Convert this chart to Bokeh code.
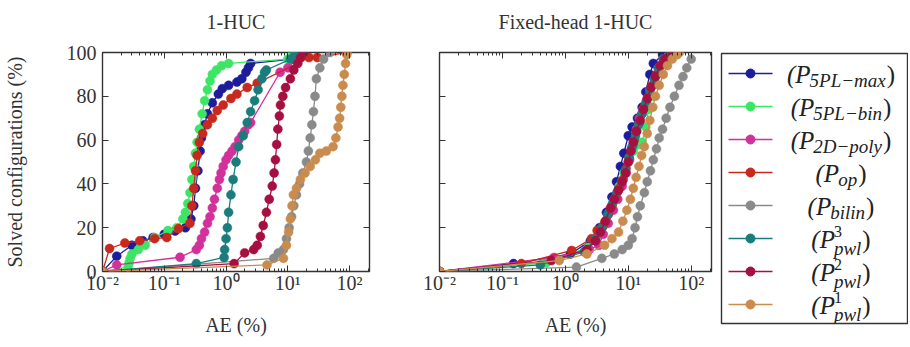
from bokeh.plotting import figure
from bokeh.layouts import row
from bokeh.models import LogAxis, LinearAxis, Range1d, FixedTicker
from bokeh.embed import file_html
from bokeh.resources import INLINE
from bokeh.core.properties import value

# ---------------- data (AE %, solved configurations %) ----------------
SERIES = ["5PL-max", "5PL-bin", "2D-poly", "op", "bilin", "pwl3", "pwl2", "pwl1"]
SUBS = ["5PL\u2212max", "5PL\u2212bin", "2D\u2212poly", "op", "bilin", "pwl", "pwl", "pwl"]
SUPS = ["", "", "", "", "", "3", "2", "1"]
COLORS = ["#1c1c9c", "#3de565", "#d2309a", "#c8281d", "#8a8a8a", "#1b7c7c", "#a51040", "#c98c4e"]

X_TICKS = [0.01, 0.1, 1, 10, 100]
X_TICK_LABELS = ["10\u207b\u00b2", "10\u207b\u00b9", "10\u2070", "10\u00b9", "10\u00b2"]
Y_TICKS = [0, 20, 40, 60, 80, 100]

# --- panel 1: 1-HUC ---
L_MAX_X = [0.01, 0.017, 0.03, 0.045, 0.066, 0.1, 0.15, 0.22, 0.27, 0.3, 0.32, 0.35, 0.38, 0.4, 0.45, 0.5, 0.6, 0.75, 0.87, 1.1, 1.5, 1.8, 2.1, 2.3, 2.5, 12, 14]
L_MAX_Y = [0, 7, 12, 14, 15.5, 17, 18.5, 20, 24, 30, 38, 46, 55, 61, 67, 72, 77, 81, 83.5, 85, 86.5, 88, 91, 93, 95, 97, 100]
L_BIN_X = [0.01, 0.026, 0.027, 0.028, 0.03, 0.038, 0.049, 0.07, 0.115, 0.16, 0.2, 0.22, 0.24, 0.26, 0.28, 0.3, 0.32, 0.34, 0.37, 0.41, 0.45, 0.5, 0.55, 0.6, 0.7, 0.85, 1.1, 10, 12]
L_BIN_Y = [0, 2, 4, 6, 8, 10, 12, 15.5, 18.7, 20, 24, 27, 31, 36, 42, 48, 54, 59, 65, 72, 78, 83, 87, 90, 92, 94, 95, 97, 100]
L_POLY_X = [0.01, 0.017, 0.18, 0.33, 0.37, 0.4, 0.45, 0.5, 0.55, 0.6, 0.65, 0.72, 0.78, 0.83, 0.9, 1.0, 1.1, 1.25, 1.4, 1.6, 1.8, 2.0, 2.3, 2.5, 7.5, 10, 14, 18]
L_POLY_Y = [0, 3, 6.5, 10, 12, 15, 18, 22, 25, 29, 33, 38, 42, 45, 48, 51, 53, 55, 57, 60, 62, 64, 67, 68, 91, 93, 97, 100]
L_OP_X = [0.01, 0.013, 0.023, 0.04, 0.07, 0.11, 0.17, 0.26, 0.28, 0.3, 0.32, 0.34, 0.37, 0.42, 0.5, 0.6, 0.72, 0.9, 1.2, 1.5, 2.2, 3.2, 22, 30, 87]
L_OP_Y = [0, 10.5, 13, 14, 15, 15.5, 19.6, 22, 30, 38, 46, 53, 59, 63, 67, 70, 73.5, 76, 79, 81, 84, 86, 97.7, 97.7, 100]
L_BILIN_X = [0.01, 5.9, 7, 8.5, 9.5, 10.5, 11.5, 12.5, 13.8, 15.5, 17.5, 20, 21.5, 23, 24.5, 26, 27.5, 29, 33, 38, 48]
L_BILIN_Y = [0, 6, 8.5, 10, 15, 20, 25, 30, 35, 40, 45, 50, 55, 61, 67, 73, 80, 88, 93, 97, 100]
L_PWL3_X = [0.01, 0.33, 0.93, 0.95, 1.0, 1.05, 1.1, 1.2, 1.3, 1.45, 1.6, 1.9, 2.2, 2.5, 2.9, 3.3, 3.8, 4.2, 4.5, 11, 13]
L_PWL3_Y = [0, 3.6, 6.4, 10, 15, 20, 27, 35, 42, 50, 57, 62, 68, 73, 78, 83, 88, 91, 92, 97, 100]
L_PWL2_X = [0.01, 1.35, 2.0, 2.8, 3.2, 3.6, 4.0, 4.5, 5.0, 5.6, 6.0, 6.3, 6.6, 6.9, 7.3, 7.6, 8.3, 9.2, 11, 12.5, 14.5, 16, 18]
L_PWL2_Y = [0, 3.6, 8.5, 10, 12, 16, 21, 27, 33, 39, 45, 51, 58, 65, 71, 76, 80, 84, 88, 92, 95, 97.5, 100]
L_PWL1_X = [0.01, 4.6, 8.5, 9.5, 10.3, 11, 11.7, 12.3, 13.8, 16, 19, 23, 28, 33, 42, 54, 60, 65, 69, 72, 75, 78, 82, 86, 90, 92]
L_PWL1_Y = [0, 3, 6, 12, 18, 24, 30, 35, 38, 42, 45, 48, 51, 54, 55, 57, 61, 66, 70, 75, 80, 85, 90, 95, 99, 100]

# --- panel 2: Fixed-head 1-HUC ---
R_MAX_X = [0.01, 0.15, 1.2, 2.5, 3.5, 4.5, 5.5, 6.5, 7.5, 8.5, 10, 11.5, 14, 16.6, 19, 22, 25, 35, 45]
R_MAX_Y = [0, 3.6, 8, 14, 20, 27, 34, 41, 48, 54, 62, 66, 70, 75, 82, 90, 95, 99, 100]
R_BIN_X = [0.01, 0.5, 2.3, 3.2, 4.1, 5, 6, 7.2, 8.5, 10, 12, 14.5, 16.6, 19, 21, 24, 27, 31, 36, 42, 50]
R_BIN_Y = [0, 4, 11, 16, 21, 27, 33, 39, 45, 50, 55, 58, 59, 66, 74, 80, 86, 91, 95, 98, 100]
R_POLY_X = [0.01, 0.66, 2.4, 3.4, 4, 4.8, 5.8, 6.8, 8, 9.3, 10.5, 12, 13.5, 15, 17, 19.5, 22, 26, 30, 36, 48]
R_POLY_Y = [0, 6.4, 10, 12, 17, 22, 28, 33, 39, 45, 51, 58, 65, 70, 74, 78, 83, 88, 93, 97, 100]
R_OP_X = [0.01, 0.2, 1.26, 2.6, 3.2, 3.8, 4.2, 4.8, 5.5, 6.3, 7.2, 8.3, 9.2, 10.2, 11.2, 12.4, 13.5, 15, 16.5, 18.5, 21, 24, 28, 33, 38, 45, 55]
R_OP_Y = [0, 3.6, 9.6, 15, 18.7, 20, 22, 26, 30, 34, 38, 42, 47, 52, 56, 60, 64, 68, 72, 76, 80, 85, 90, 94, 97, 99, 100]
R_BILIN_X = [0.01, 1.5, 3.8, 6, 8, 10, 11.5, 12.8, 14, 15.5, 18, 20, 22.5, 25, 28, 31, 35, 40, 46, 54, 64, 74, 85, 100]
R_BILIN_Y = [0, 2, 6, 8, 10, 12, 15, 20, 25, 30, 36, 41, 46, 51, 56, 61, 65, 70, 75, 80, 85, 89, 93, 97]
R_PWL3_X = [0.01, 0.4, 2.0, 3.0, 3.8, 4.7, 5.6, 6.6, 7.8, 9, 10.3, 11.5, 13, 14.5, 16.5, 19, 22, 26, 30, 36, 46]
R_PWL3_Y = [0, 3, 9, 15, 20, 26, 31, 36, 41, 46, 52, 57, 62, 67, 72, 77, 83, 88, 93, 97, 100]
R_PWL2_X = [0.01, 0.6, 2.2, 3, 3.6, 4.3, 5.2, 6, 7, 8, 9, 10, 11, 12, 13.5, 15.5, 17.5, 20, 23, 27, 32, 38, 50]
R_PWL2_Y = [0, 5, 10, 14, 18, 23, 29, 33, 37, 41, 45, 50, 55, 59, 64, 69, 74, 79, 84, 89, 94, 97, 100]
R_PWL1_X = [0.01, 0.8, 2.2, 4.2, 5.5, 7, 8.2, 9.5, 10.8, 12, 13.3, 14.8, 16.3, 18, 20, 22, 24.5, 27, 31, 36, 42, 50, 60, 65]
R_PWL1_Y = [0, 5, 8, 12, 15, 18, 23, 28, 33, 38, 43, 48, 53, 57, 63, 69, 75, 80, 85, 90, 94, 97, 99, 100]

LEFT = [(L_MAX_X, L_MAX_Y), (L_BIN_X, L_BIN_Y), (L_POLY_X, L_POLY_Y), (L_OP_X, L_OP_Y),
        (L_BILIN_X, L_BILIN_Y), (L_PWL3_X, L_PWL3_Y), (L_PWL2_X, L_PWL2_Y), (L_PWL1_X, L_PWL1_Y)]
RIGHT = [(R_MAX_X, R_MAX_Y), (R_BIN_X, R_BIN_Y), (R_POLY_X, R_POLY_Y), (R_OP_X, R_OP_Y),
         (R_BILIN_X, R_BILIN_Y), (R_PWL3_X, R_PWL3_Y), (R_PWL2_X, R_PWL2_Y), (R_PWL1_X, R_PWL1_Y)]

FONT = "Liberation Serif"
INK = "#333333"
MINOR = [m * d for d in [0.01, 0.1, 1, 10, 100] for m in range(2, 10) if m * d < 210]


def style_axis(ax, labels=True):
    ax.axis_line_color = None
    ax.major_tick_in = 6
    ax.major_tick_out = 0
    ax.minor_tick_in = 3
    ax.minor_tick_out = 0
    ax.major_tick_line_color = INK
    ax.minor_tick_line_color = INK
    ax.major_label_text_font = FONT
    ax.major_label_text_font_size = "20px"
    ax.major_label_text_color = INK if labels else None
    ax.axis_label_text_font = FONT
    ax.axis_label_text_font_size = "20px"
    ax.axis_label_text_font_style = "normal"
    ax.axis_label_text_color = INK


def make_panel(title, data, ylabel, border_left, border_right):
    p = figure(title=None, x_axis_type="log", x_range=Range1d(0.01, 210), y_range=Range1d(0, 100),
               width=border_left + 272 + border_right, height=52 + 219 + 72,
               min_border_left=border_left, min_border_right=border_right,
               min_border_top=52, min_border_bottom=72, frame_align=False,
               toolbar_location=None, output_backend="svg",
               background_fill_color="white", border_fill_color="white")
    p.grid.visible = False
    p.outline_line_color = INK
    p.outline_line_width = 1.4

    xt = FixedTicker(ticks=X_TICKS, minor_ticks=MINOR)
    yt = FixedTicker(ticks=Y_TICKS)
    xa = p.xaxis[0]
    xa.ticker = xt
    xa.major_label_overrides = dict(zip(X_TICKS, X_TICK_LABELS))
    xa.axis_label = "AE (%)"
    style_axis(xa)
    xa.major_label_standoff = 0
    xa.axis_label_standoff = 17

    ya = p.yaxis[0]
    ya.ticker = yt
    style_axis(ya, labels=ylabel)
    ya.minor_tick_in = 0
    if ylabel:
        ya.axis_label = "Solved configurations (%)"
        ya.major_label_standoff = 6
        ya.axis_label_standoff = 38
    else:
        ya.major_label_overrides = {t: "" for t in Y_TICKS}

    # top axis: inner ticks along the upper frame edge, panel title as its label
    top = LogAxis(ticker=xt, major_label_overrides={t: "" for t in X_TICKS})
    style_axis(top, labels=False)
    top.major_label_standoff = 0
    top.axis_label = title
    top.axis_label_standoff = 20
    p.add_layout(top, "above")
    right = LinearAxis(ticker=yt, major_label_overrides={t: "" for t in Y_TICKS})
    style_axis(right, labels=False)
    right.minor_tick_in = 0
    right.major_label_standoff = 0
    p.add_layout(right, "right")

    for (xs, ys), c in zip(data, COLORS):
        p.line(xs, ys, line_color=c, line_width=1.3)
        p.scatter(xs, ys, size=9, fill_color=c, line_color=c, line_width=0.5)
    return p


p1 = make_panel("1-HUC", LEFT, True, 97, 30)
p2 = make_panel("Fixed-head 1-HUC", RIGHT, False, 40, 4)

# ---------------- legend panel ----------------
leg = figure(x_range=Range1d(0, 186), y_range=Range1d(270, 0),
             width=6 + 186 + 1, height=53 + 270 + 2,
             min_border_left=6, min_border_right=1, min_border_top=53, min_border_bottom=2,
             frame_align=False,
             toolbar_location=None, output_backend="svg",
             background_fill_color="white", border_fill_color="white")
leg.xaxis.visible = False
leg.yaxis.visible = False
leg.grid.visible = False
leg.outline_line_color = INK
leg.outline_line_width = 1.4

W_IT = {'5': .5, 'P': .611, 'L': .556, '\u2212': .675, 'm': .722, 'a': .5, 'x': .444, 'b': .5,
        'i': .278, 'n': .5, '2': .5, 'D': .722, 'p': .5, 'o': .5, 'l': .278, 'y': .444, 'w': .667,
        '1': .5, '3': .5}
MAIN = 25
SUB = 19
CX = 120
TXT = "#222222"
for i, (sub, sup, c) in enumerate(zip(SUBS, SUPS, COLORS)):
    y = 20 + 33 * i
    leg.line([7, 51], [y, y], line_color=c, line_width=1.3)
    leg.scatter([29], [y], size=9, fill_color=c, line_color=c)
    w_sub = sum(W_IT.get(ch, .5) for ch in sub) * SUB
    w_head = (0.333 + 0.611) * MAIN
    w_tail = 0.333 * MAIN
    total = w_head + w_sub + w_tail + 1
    x0 = CX - total / 2
    leg.text([x0], [y + 1], text=["(P"], text_font=value(FONT), text_font_size="%dpx" % MAIN,
             text_font_style="italic", text_baseline="middle", text_align="left", text_color=TXT)
    xs = x0 + w_head - 1
    if sup:
        leg.text([xs], [y - 7], text=[sup], text_font=value(FONT), text_font_size="16px",
                 text_baseline="middle", text_align="left", text_color=TXT)
        leg.text([xs], [y + 10], text=[sub], text_font=value(FONT), text_font_size="%dpx" % SUB,
                 text_font_style="italic", text_baseline="middle", text_align="left", text_color=TXT)
    else:
        leg.text([xs], [y + 7], text=[sub], text_font=value(FONT), text_font_size="%dpx" % SUB,
                 text_font_style="italic", text_baseline="middle", text_align="left", text_color=TXT)
    leg.text([xs + w_sub + 1], [y + 1], text=[")"], text_font=value(FONT), text_font_size="%dpx" % MAIN,
             text_baseline="middle", text_align="left", text_color=TXT)

layout = row(p1, p2, leg)
open("out.html", "w").write(file_html(layout, INLINE))
